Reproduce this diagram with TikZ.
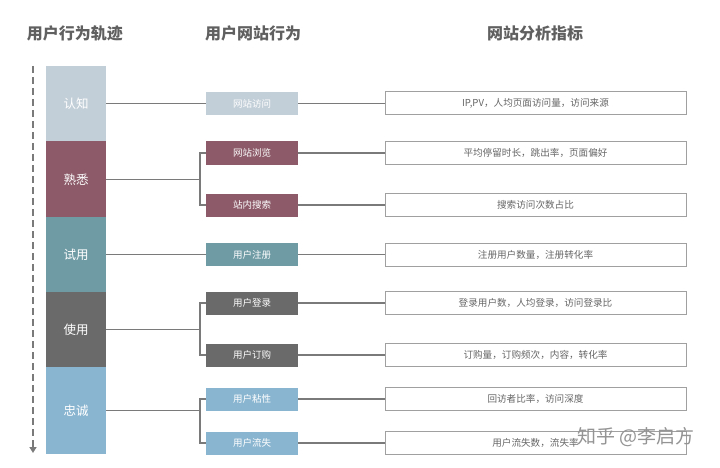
\documentclass[tikz,border=0pt]{standalone}
\usepackage{fontspec}
\setmainfont{Noto Sans CJK SC}
\usetikzlibrary{arrows.meta}
\definecolor{cA}{HTML}{C3CFD8}
\definecolor{cB}{HTML}{8C5A69}
\definecolor{cC}{HTML}{6F9BA5}
\definecolor{cD}{HTML}{6A6A6A}
\definecolor{cE}{HTML}{8AB5D0}
\definecolor{ln}{HTML}{7A7A7A}
\definecolor{bd}{HTML}{A0A0A0}
\definecolor{tt}{HTML}{606060}
\definecolor{rt}{HTML}{666666}
\tikzset{
  title/.style={font=\fontsize{16}{18}\selectfont\bfseries, text=tt},
  blk/.style={minimum width=60pt, inner sep=0pt, text=white, font=\fontsize{12.5}{14}\selectfont},
  mbox/.style={minimum width=92pt, minimum height=23pt, inner sep=0pt, text=white, font=\fontsize{9.5}{11}\selectfont},
  rbox/.style={draw=bd, line width=1pt, fill=white, minimum width=301pt, minimum height=23pt, inner sep=0pt, text=rt, font=\fontsize{9.6}{11}\selectfont},
  conn/.style={draw=ln, line width=1.2pt},
}
\begin{document}
\begin{tikzpicture}[x=1pt,y=-1pt]
\useasboundingbox (0,0) rectangle (720,468);
% titles
\node[title] (t1) at (75,33) {用户行为轨迹};
\node[title] (t2) at (253,33) {用户网站行为};
\node[title] (t3) at (535,33) {网站分析指标};
% timeline arrow
\coordinate (as) at (33,66);
\coordinate (ae) at (33,453);
\draw[ln, line width=1.6pt, dash pattern=on 7pt off 4pt, -{Triangle[width=7pt,length=6pt]}] (as) -- (ae);
% left blocks
\node[blk, fill=cA, minimum height=75pt] (b1) at (76,103.5) {认知};
\node[blk, fill=cB, minimum height=77pt] (b2) at (76,179.5) {熟悉};
\node[blk, fill=cC, minimum height=75pt] (b3) at (76,254.5) {试用};
\node[blk, fill=cD, minimum height=75pt] (b4) at (76,329.5) {使用};
\node[blk, fill=cE, minimum height=87pt] (b5) at (76,410.5) {忠诚};
% middle boxes
\node[mbox, fill=cA] (m1) at (252,103.5) {网站访问};
\node[mbox, fill=cB] (m2) at (252,153) {网站浏览};
\node[mbox, fill=cB] (m3) at (252,205) {站内搜索};
\node[mbox, fill=cC] (m4) at (252,254.5) {用户注册};
\node[mbox, fill=cD] (m5) at (252,303) {用户登录};
\node[mbox, fill=cD] (m6) at (252,355) {用户订购};
\node[mbox, fill=cE] (m7) at (252,399) {用户粘性};
\node[mbox, fill=cE] (m8) at (252,443) {用户流失};
% right boxes
\node[rbox] (r1) at (535.5,103.5) {IP,PV，人均页面访问量，访问来源};
\node[rbox] (r2) at (535.5,153) {平均停留时长，跳出率，页面偏好};
\node[rbox] (r3) at (535.5,205) {搜索访问次数占比};
\node[rbox] (r4) at (535.5,254.5) {注册用户数量，注册转化率};
\node[rbox] (r5) at (535.5,303) {登录用户数，人均登录，访问登录比};
\node[rbox] (r6) at (535.5,355) {订购量，订购频次，内容，转化率};
\node[rbox] (r7) at (535.5,399) {回访者比率，访问深度};
\node[rbox] (r8) at (535.5,443) {用户流失数，流失率};
% connectors left -> middle
\coordinate (bx) at (200,0);
\path[conn] (b1.east) -- (m1.west);
\path[conn] (b3.east) -- (m4.west);
\path[conn] (b2.east) -- (b2.east -| bx) |- (m2.west);
\path[conn] (b2.east -| bx) |- (m3.west);
\path[conn] (b4.east) -- (b4.east -| bx) |- (m5.west);
\path[conn] (b4.east -| bx) |- (m6.west);
\path[conn] (b5.east) -- (b5.east -| bx) |- (m7.west);
\path[conn] (b5.east -| bx) |- (m8.west);
% connectors middle -> right
\foreach \i in {1,...,8} { \path[conn] (m\i.east) -- (r\i.west); }
% watermark
\node[font=\fontsize{19}{21}\selectfont, text=rt!70] (wm) at (636,437) {知乎\ @李启方};
\end{tikzpicture}
\end{document}
